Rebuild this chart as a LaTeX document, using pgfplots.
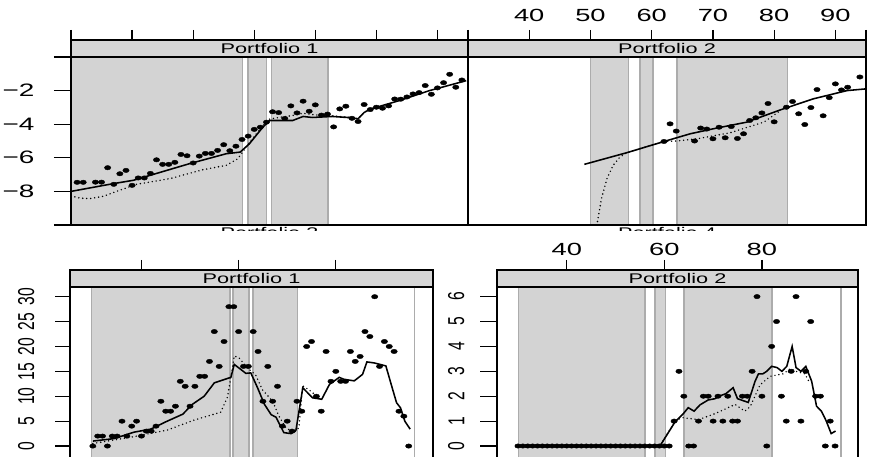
\documentclass[border=0pt]{standalone}
\usepackage{fontspec}
\setmainfont{Liberation Sans}[FakeStretch=1.55]
\newfontfamily\rotfont{Liberation Sans}[FakeStretch=0.68]
\usepackage{pgfplots}
\pgfplotsset{compat=1.18}
\definecolor{bandgray}{RGB}{211,211,211}
\definecolor{edgegray}{RGB}{172,172,172}
\definecolor{stripgray}{RGB}{214,214,214}
\newcommand{\band}[4]{%
  \addplot[fill=bandgray,draw=none] coordinates {(#1,#3) (#1,#4) (#2,#4) (#2,#3)} -- cycle;
  \addplot[edgegray,line width=1.6pt] coordinates {(#1,#3) (#1,#4)};
  \addplot[edgegray,line width=1.6pt] coordinates {(#2,#3) (#2,#4)};}
\pgfplotsset{
  panel/.style={scale only axis, anchor=south west, axis on top,
    axis line style={line width=1.2pt}, tick style={line width=1.2pt, black},
    tick align=outside, xtick=\empty, ytick pos=left,
    /pgf/number format/assume math mode=true},
  strip/.style={scale only axis, anchor=south west, height=17pt,
    axis background/.style={fill=stripgray},
    axis line style={line width=1.2pt}, tick style={line width=1.2pt, black},
    ymin=0, ymax=1, ytick=\empty, xtick pos=right, xticklabel pos=right,
    tick align=outside, major tick length=10pt,
    /pgf/number format/assume math mode=true,
    xticklabel style={font=\fontsize{17.6}{17.6}\selectfont}},
  solidl/.style={black, line width=1.55pt, mark=none},
  dotl/.style={black, line width=1.6pt, dash pattern=on 0pt off 4pt, line cap=round, mark=none},
  pts/.style={only marks, mark=*, mark size=2.2pt, mark options={xscale=1.45, fill=black, draw=black}},
}
\begin{document}
\begin{tikzpicture}[x=1pt,y=1pt]
\useasboundingbox (0,0) rectangle (872,457);
\clip (0,0) rectangle (872,457);
% ---------------- top row ----------------
\begin{axis}[panel, at={(71pt,232pt)}, width=397pt, height=168pt,
  xmin=30, xmax=95, ymin=-10, ymax=0,
  ytick={-10,-8,-6,-4,-2,0}, yticklabels={,−8,−6,−4,−2,},
  major tick length=17pt,
  yticklabel style={font=\fontsize{18}{18}\selectfont, xshift=-16pt}]
\band{30}{58.1}{-10}{0}
\band{59.0}{62.0}{-10}{0}
\band{62.8}{72.1}{-10}{0}
\addplot[dotl] coordinates {(30,-8.27) (31.5,-8.4) (33.1,-8.43) (35.3,-8.29) (38,-7.93) (40.7,-7.58) (46.2,-7.24) (51.6,-6.71) (55.4,-6.45) (57.3,-6.06) (57.9,-5.76) (59.2,-5.1) (61.4,-4.1) (62.5,-3.7) (64,-3.6) (66,-3.5) (68,-3.35) (70,-3.45) (72.8,-3.5) (76,-3.6) (77,-3.68) (78,-3.3) (79.1,-3.09)};
\addplot[solidl] coordinates {(30,-8.0) (36.9,-7.54) (40.2,-7.34) (49.4,-6.35) (55.4,-5.76) (57.7,-5.66) (59.2,-5.17) (61.4,-4.18) (62.5,-3.78) (66.3,-3.78) (68,-3.54) (69.5,-3.6) (72.8,-3.54) (76,-3.62) (77,-3.68) (78,-3.3) (79.1,-3.09) (83.8,-2.59) (88.7,-2.0) (94.7,-1.41)};
\addplot[pts] coordinates {(31,-7.46) (32,-7.46) (34,-7.45) (35,-7.45) (36,-6.59) (37,-7.58) (38,-6.95) (39,-6.75) (40,-7.64) (41,-7.2) (42,-7.2) (43,-6.93) (44,-6.12) (45,-6.39) (46,-6.39) (47,-6.27) (48,-5.80) (49,-5.88) (50,-6.31) (51,-5.90) (52,-5.74) (53,-5.74) (54,-5.56) (55,-5.22) (56,-5.58) (57,-5.31) (58,-4.91) (59,-4.71) (60,-4.31) (61,-4.18) (62,-3.88) (63,-3.26) (64,-3.31) (65,-3.66) (66,-2.91) (67,-3.33) (68,-2.63) (69,-3.23) (70,-2.85) (71,-3.46) (72,-3.40) (73,-4.16) (74,-3.09) (75,-2.93) (76,-3.65) (77,-3.84) (78,-2.83) (79,-3.13) (80,-2.99) (81,-3.05) (82,-2.91) (83,-2.50) (84,-2.51) (85,-2.38) (86,-2.20) (87,-2.12) (88,-1.70) (89,-2.22) (90,-1.84) (91,-1.53) (92,-1.03) (93,-1.80) (94,-1.37)};
\end{axis}
\begin{axis}[strip, at={(71pt,400pt)}, width=397pt, xmin=30, xmax=95,
  xtick={30,40,...,90}, xticklabels={}]
\node[font=\fontsize{14}{14}\selectfont] at (rel axis cs:0.5,0.5) {Portfolio 1};
\end{axis}
\begin{axis}[panel, at={(468pt,232pt)}, width=398pt, height=168pt,
  xmin=30, xmax=95, ymin=-10, ymax=0, ytick=\empty]
\band{50.0}{56.2}{-10}{0}
\band{58.1}{60.2}{-10}{0}
\band{64.1}{82.2}{-10}{0}
\addplot[dotl] coordinates {(50.9,-10.5) (51.1,-9.9) (51.8,-8.43) (52.7,-7.24) (53.7,-6.45) (54.8,-5.96) (55.9,-5.70) (62,-5.03) (64.1,-5.0) (67.4,-4.87) (72.8,-4.51) (78.3,-3.88) (81,-3.2)};
\addplot[solidl] coordinates {(49,-6.39) (55.9,-5.70) (62,-5.03) (66.3,-4.57) (70.1,-4.27) (75.5,-3.88) (81,-3.15) (86.4,-2.49) (91.9,-2.0) (94.9,-1.90)};
\addplot[pts] coordinates {(62,-5.03) (63,-3.98) (64,-4.41) (67,-5.0) (68,-4.23) (69,-4.29) (70,-4.87) (71,-4.18) (72,-4.81) (73,-4.14) (74,-4.85) (75,-4.57) (76,-3.78) (77,-3.62) (78,-3.33) (79,-2.77) (80,-3.86) (82,-2.99) (83,-2.65) (84,-3.38) (85,-4.02) (86,-3.01) (87,-1.94) (88,-3.50) (89,-2.42) (90,-1.60) (91,-1.96) (92,-1.80) (94,-1.19)};
\end{axis}
\begin{axis}[strip, at={(468pt,400pt)}, width=398pt, xmin=30, xmax=95,
  xtick={30,40,50,60,70,80,90,95}, xticklabels={,40,50,60,70,80,90,},
  xticklabel style={yshift=5pt}]
\node[font=\fontsize{14}{14}\selectfont] at (rel axis cs:0.5,0.5) {Portfolio 2};
\end{axis}
\node[anchor=north, inner sep=0pt, font=\fontsize{14}{14}\selectfont] at (269.5,230) {Portfolio 3};
\node[anchor=north, inner sep=0pt, font=\fontsize{14}{14}\selectfont] at (667,230) {Portfolio 4};
\fill[white] (0,0) rectangle (872,226);
% ---------------- bottom row ----------------
\begin{axis}[panel, at={(70pt,-4pt)}, width=363pt, height=174pt,
  xmin=25.3, xmax=100, ymin=-3, ymax=31.95,
  ytick={0,5,...,30}, major tick length=15pt,
  yticklabel style={xshift=-17pt, rotate=90, anchor=south, font=\rotfont\fontsize{23}{23}\selectfont}]
\band{29.7}{58.2}{-3}{31.95}
\band{58.9}{62.1}{-3}{31.95}
\band{63.0}{72.1}{-3}{31.95}
\addplot[edgegray,line width=1.6pt] coordinates {(96.2,-3) (96.2,31.95)};
\addplot[dotl] coordinates {(30,0.5) (38.5,1.9) (45.3,3.2) (50.8,5.2) (56.3,6.8) (57.7,9.8) (58.4,13.8) (59.1,18.1) (60.1,17.7) (61.8,15.7) (63.5,14.3) (64.9,11.3) (67,9.0) (68.3,6.0) (69.7,3.7) (71.4,2.7) (72.4,3.7) (73.2,12.1) (74.9,11) (76.5,9.6) (77.1,9.4)};
\addplot[solidl] coordinates {(30,1.0) (34.4,1.5) (38.5,2.8) (41.9,3.4) (45.3,5.0) (48.5,6.4) (50.5,8.4) (52.9,10.0) (55,12.7) (58.4,13.8) (59.1,16.4) (61.5,14.6) (62.5,14.7) (63.9,11.7) (65.3,8.4) (66.7,6.3) (67.7,5.8) (69.3,2.7) (70.8,2.5) (71.8,3.2) (73.2,11.7) (75.2,9.7) (77.1,9.4) (78.7,12.4) (80.7,13.8) (81.7,13.4) (83.8,13.1) (85.5,14.4) (86.4,16.9) (87.9,16.7) (90.3,16.1) (91.6,11.7) (92.5,8.7) (93.3,7.7) (94.2,5.0) (95.3,3.4)};
\addplot[pts] coordinates {(30,0) (31,2) (32,2) (33,0) (34,2) (35,2) (36,5) (37,2) (38,4) (39,5) (40,2) (41,3) (42,3) (43,4) (44,9) (45,7) (46,7) (47,8) (48,13) (49,12) (50,8) (51,12) (52,14) (53,14) (54,17) (55,23) (56,16) (57,21) (58,28) (59,28) (60,23) (61,16) (62,16) (63,23) (64,19) (65,9) (66,16) (67,9) (68,12) (69,4) (70,5) (71,3) (72,9) (73,7) (74,20) (75,21) (76,10) (77,7) (78,19) (79,13) (80,15) (81,13) (82,13) (83,19) (84,17) (85,18) (86,23) (87,22) (88,30) (89,16) (90,21) (91,20) (92,19) (93,7) (94,6) (95,0)};
\end{axis}
\begin{axis}[strip, at={(70pt,170pt)}, width=363pt, xmin=25.3, xmax=100,
  xtick={40,60,80}, xticklabels={}]
\node[font=\fontsize{14}{14}\selectfont] at (rel axis cs:0.5,0.5) {Portfolio 1};
\end{axis}
\begin{axis}[panel, at={(497pt,-4pt)}, width=361pt, height=174pt,
  xmin=25.7, xmax=99.7, ymin=-0.602, ymax=6.386,
  ytick={0,1,...,6}, major tick length=17pt,
  yticklabel style={xshift=-12pt, rotate=90, anchor=south, font=\rotfont\fontsize{23}{23}\selectfont}]
\band{30.1}{56.05}{-0.602}{6.386}
\band{58.1}{60.2}{-0.602}{6.386}
\band{64.0}{82.1}{-0.602}{6.386}
\addplot[edgegray,line width=1.6pt] coordinates {(96.2,-0.602) (96.2,6.386)};
\addplot[dotl] coordinates {(30,0) (59.1,0) (62.2,1.0) (63.6,1.14) (67,1.06) (70.4,1.3) (74.5,1.67) (76.5,1.4) (77.6,1.58) (79.6,2.45) (81.7,2.8) (84.4,2.9) (85.8,3.1) (87,3.0) (88.8,2.9) (89.9,2.5)};
\addplot[solidl] coordinates {(30,0) (59.1,0) (62.2,0.97) (63.9,1.3) (64.9,1.54) (66.1,1.4) (67.3,1.65) (69,1.85) (70.4,1.9) (71.2,2.0) (72.6,2.1) (74.1,2.34) (75,1.9) (77.2,1.75) (78.6,2.6) (79.3,2.9) (80.2,2.9) (81,3.0) (82,3.2) (83.1,3.15) (84.1,3.0) (85.1,3.2) (86.2,4.0) (87,3.15) (88,3.0) (89,3.2) (90.2,2.6) (91.2,1.6) (92.2,1.4) (93.2,1.0) (94.2,0.5) (95.1,0.6)};
\addplot[pts] coordinates {(30,0) (31,0) (32,0) (33,0) (34,0) (35,0) (36,0) (37,0) (38,0) (39,0) (40,0) (41,0) (42,0) (43,0) (44,0) (45,0) (46,0) (47,0) (48,0) (49,0) (50,0) (51,0) (52,0) (53,0) (54,0) (55,0) (56,0) (57,0) (58,0) (59,0) (60,0) (61,0) (62,1) (63,3) (64,2) (65,0) (66,0) (67,1) (68,2) (69,2) (70,1) (71,2) (72,1) (73,2) (74,1) (75,1) (76,2) (77,2) (78,3) (79,6) (80,2) (81,0) (82,4) (83,5) (84,2) (85,1) (86,3) (87,6) (88,1) (89,3) (90,5) (91,2) (92,2) (93,0) (94,1) (95,0)};
\end{axis}
\begin{axis}[strip, at={(497pt,170pt)}, width=361pt, xmin=25.7, xmax=99.7,
  xtick={40,60,80}, xticklabel style={yshift=1pt}]
\node[font=\fontsize{14}{14}\selectfont] at (rel axis cs:0.5,0.5) {Portfolio 2};
\end{axis}
\end{tikzpicture}
\end{document}
